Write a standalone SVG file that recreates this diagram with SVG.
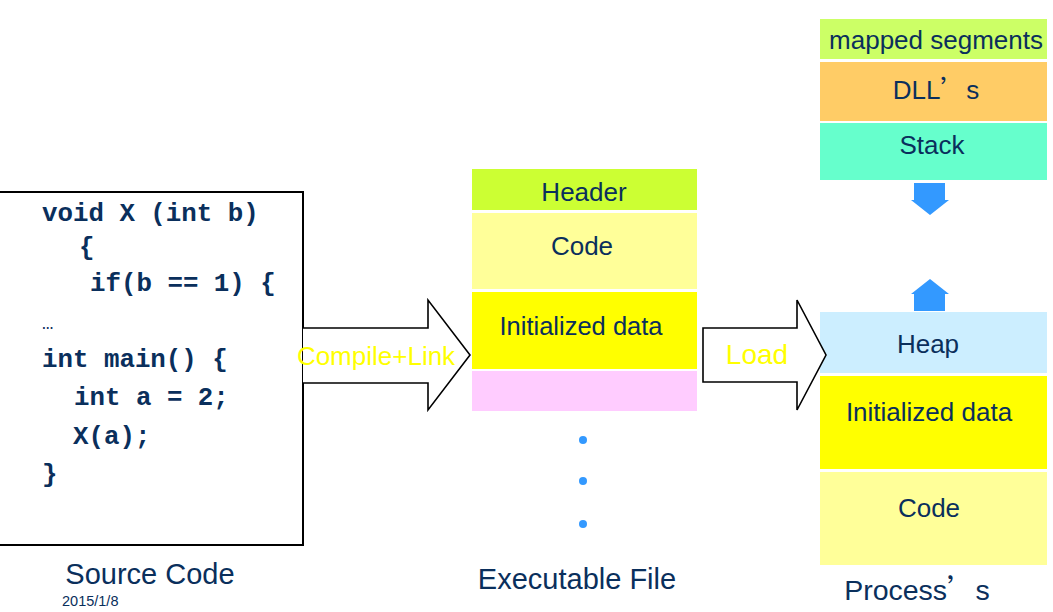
<svg xmlns="http://www.w3.org/2000/svg" width="1053" height="612" viewBox="0 0 1053 612">
<style>
.code{font-family:"Liberation Mono","Courier New",monospace;font-weight:bold;font-size:25.8px;fill:#0a2f5c}
.lbl{font-family:"Liberation Sans",Arial,sans-serif;fill:#0a2f5c;text-anchor:middle}
.seg{stroke:none}
.yl{font-family:"Liberation Sans",Arial,sans-serif;fill:#ffff00;text-anchor:middle}
.cjk{font-family:"Noto Sans CJK SC",sans-serif}
.blk{fill:#fff;stroke:#000;stroke-width:1.6}
.dot{fill:#3399ff}
.barrow{fill:#3399ff}
</style>
<rect width="1053" height="612" fill="#fff"/>

<g id="source">
<rect x="-2" y="192" width="305" height="353" fill="#fff" stroke="#000" stroke-width="2"/>
<text class="code" x="42" y="221">void X (int b)</text>
<text class="code" x="79" y="255">{</text>
<text class="code" x="90" y="291">if(b == 1) {</text>
<text class="code" x="42" y="329" style="font-size:19px;font-weight:normal">…</text>
<text class="code" x="42" y="367">int main() {</text>
<text class="code" x="74" y="405">int a = 2;</text>
<text class="code" x="73" y="444">X(a);</text>
<text class="code" x="42" y="482">}</text>
</g>
<g id="source-label">
<text class="lbl" x="150" y="584" font-size="29">Source Code</text>
<text x="62" y="606" font-family="Liberation Sans,Arial,sans-serif" font-size="14.5" fill="#0a2f5c">2015/1/8</text>
</g>

<g id="executable">
<g id="exe-header"><rect class="seg" x="472" y="169" width="225" height="41" fill="#ccff33"/><text class="lbl" x="584" y="201" font-size="26">Header</text></g>
<g id="exe-code"><rect class="seg" x="472" y="213" width="225" height="76" fill="#ffff99"/><text class="lbl" x="582" y="255" font-size="26">Code</text></g>
<g id="exe-data"><rect class="seg" x="472" y="292" width="225" height="77" fill="#ffff00"/><text class="lbl" x="581" y="335" font-size="25.5">Initialized data</text></g>
<g id="exe-other"><rect class="seg" x="472" y="371" width="225" height="40" fill="#ffccff"/></g>
<circle class="dot" cx="583" cy="440" r="4"/>
<circle class="dot" cx="583" cy="481" r="4"/>
<circle class="dot" cx="583" cy="524" r="4"/>
<text class="lbl" x="577" y="589" font-size="29">Executable File</text>
</g>

<g id="process">
<g id="p-mapped"><rect class="seg" x="820" y="19" width="227" height="40" fill="#ccff66"/><text class="lbl" x="936" y="49" font-size="26">mapped segments</text></g>
<g id="p-dll"><rect class="seg" x="820" y="62" width="227" height="59" fill="#ffcc66"/><text class="lbl" x="936" y="99" font-size="26">DLL<tspan class="cjk">’</tspan>s</text></g>
<g id="p-stack"><rect class="seg" x="820" y="123" width="227" height="57" fill="#66ffcc"/><text class="lbl" x="932" y="154" font-size="26">Stack</text></g>
<g id="stack-arrow"><path class="barrow" d="M914,183 H945 V200 H949 L930,215 L911,200 H914 Z"/></g>
<g id="heap-arrow"><path class="barrow" d="M914,311 H945 V294 H949 L930,279 L911,294 H914 Z"/></g>
<g id="p-heap"><rect class="seg" x="820" y="312" width="227" height="61" fill="#cceeff"/><text class="lbl" x="928" y="353" font-size="26">Heap</text></g>
<g id="p-data"><rect class="seg" x="820" y="376" width="227" height="93" fill="#ffff00"/><text class="lbl" x="929" y="421" font-size="26">Initialized data</text></g>
<g id="p-code"><rect class="seg" x="820" y="472" width="227" height="93" fill="#ffff99"/><text class="lbl" x="929" y="517" font-size="26">Code</text></g>
<text class="lbl" x="917" y="600" font-size="28.5">Process<tspan class="cjk">’</tspan>s</text>
</g>

<g id="connectors">
<g id="compile-link">
<path class="blk" d="M303,328 H428 V300 L470,355 L428,410 V383 H303"/>
<text class="yl" x="376" y="365" font-size="26">Compile+Link</text>
</g>
<g id="load">
<path class="blk" d="M703,328 H797 V300 L826,355 L797,410 V382 H703 Z"/>
<text class="yl" x="757" y="364" font-size="28">Load</text>
</g>
</g>
</svg>
